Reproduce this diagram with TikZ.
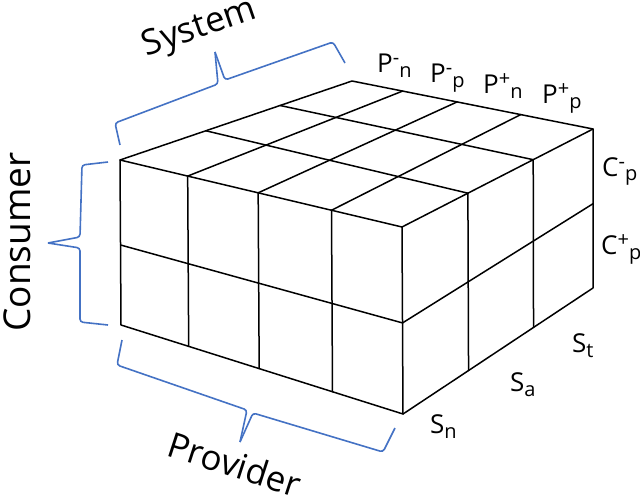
\documentclass[tikz,border=0pt]{standalone}
\usepackage{fontspec}
\setmainfont{Open Sans}
\usetikzlibrary{calc}
\definecolor{braceblue}{RGB}{68,114,196}
\newcommand{\supsub}[3]{#1\raisebox{8pt}{\fontsize{20}{20}\selectfont #2}%
  \raisebox{-5pt}{\fontsize{20}{20}\selectfont #3}}
\newcommand{\subonly}[2]{#1\raisebox{-5pt}{\fontsize{20}{20}\selectfont #2}}

\begin{document}
\begin{tikzpicture}[
  x=1pt, y=-1pt,
  edge/.style={line width=1.5pt, black, line cap=round, line join=round},
  bracket/.style={line width=1.6pt, braceblue, rounded corners=3pt},
  axis/.style={font=\fontsize{35}{35}\selectfont, inner sep=0pt},
  tick/.style={font=\fontsize{26}{26}\selectfont, inner sep=0pt, anchor=base west},
]
\useasboundingbox (0,0) rectangle (640,500);

% ---------- Cube corners ----------
\coordinate (ftl) at (120,160);
\coordinate (ftr) at (402,227);
\coordinate (fbl) at (121,325);
\coordinate (fbr) at (403,414);
\coordinate (btl) at (352,81);
\coordinate (btr) at (593,129);
\coordinate (bbr) at (593,288);

% ---------- Outline ----------
\draw[edge] (fbl) -- (ftl) -- (btl) -- (btr) -- (bbr) -- (fbr) -- cycle;
\draw[edge] (ftl) -- (ftr) -- (fbr);
\draw[edge] (ftr) -- (btr);

% ---------- Front face ----------
\foreach \f in {0.24,0.49,0.75}
  \draw[edge] ($(ftl)!\f!(ftr)$) -- ($(fbl)!\f!(fbr)$);
\draw[edge] ($(ftl)!0.515!(fbl)$) -- ($(ftr)!0.513!(fbr)$);

% ---------- Right face ----------
\foreach \f in {0.345,0.687}
  \draw[edge] ($(ftr)!\f!(btr)$) -- ($(fbr)!\f!(bbr)$);
\draw[edge] ($(ftr)!0.513!(fbr)$) -- ($(btr)!0.47!(bbr)$);

% ---------- Top face ----------
\foreach \f/\b in {0.24/0.21,0.49/0.436,0.75/0.70}
  \draw[edge] ($(ftl)!\f!(ftr)$) -- ($(btl)!\b!(btr)$);
\foreach \l/\r in {0.37/0.345,0.69/0.687}
  \draw[edge] ($(ftl)!\l!(btl)$) -- ($(ftr)!\r!(btr)$);

% ---------- Braces ----------
\draw[bracket] (120,145) -- (115,123) -- (218,84) -- (215,52);
\draw[bracket] (215,52) -- (225,80) -- (333,42) -- (345,63);
\draw[bracket] (108,162) -- (82,165) -- (80,237) -- (48,243);
\draw[bracket] (48,243) -- (80,248) -- (80,322) -- (108,325);
\draw[bracket] (122,340) -- (117,365) -- (247,410) -- (240,442);
\draw[bracket] (240,442) -- (253,413) -- (383,452) -- (395,428);

% ---------- Labels ----------
\node[axis, rotate=19] (system) at (200,29) {System};
\node[axis, rotate=90, font=\fontsize{37}{37}\selectfont] (consumer) at (17,242) {Consumer};
\node[axis, rotate=-18] (provider) at (235,464) {Provider};

\node[tick] (pnegn) at (377,73) {\supsub{P}{-}{n}};
\node[tick] (pnegp) at (430,83) {\supsub{P}{-}{p}};
\node[tick] (pposn) at (483,94) {\supsub{P}{+}{n}};
\node[tick] (pposp) at (542,104) {\supsub{P}{+}{p}};
\node[tick] (cneg) at (602,176) {\supsub{C}{-}{p}};
\node[tick] (cpos) at (601,254) {\supsub{C}{+}{p}};
\node[tick] (sn) at (430,433) {\subonly{S}{n}};
\node[tick] (sa) at (510,391) {\subonly{S}{a}};
\node[tick] (st) at (572,352) {\subonly{S}{t}};

\end{tikzpicture}
\end{document}
